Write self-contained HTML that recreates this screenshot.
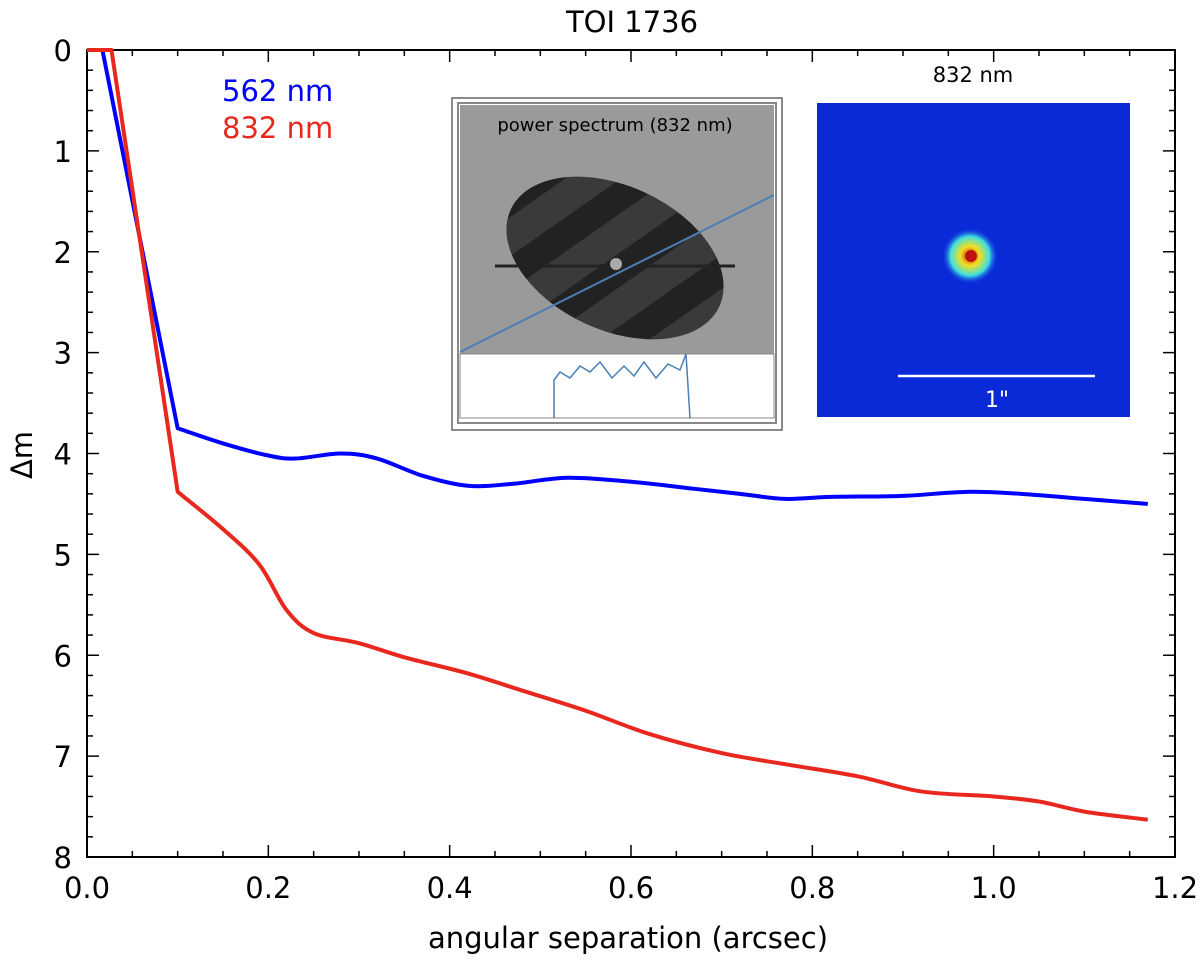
<!DOCTYPE html>
<html><head><meta charset="utf-8"><style>
body{margin:0;background:#fff;font-family:"DejaVu Sans","Liberation Sans",sans-serif}
</style></head><body>
<svg width="1200" height="968" viewBox="0 0 1200 968">
<defs>
<radialGradient id="spk" cx="50%" cy="50%" r="50%"><stop offset="0" stop-color="#d02010"/><stop offset="0.35" stop-color="#f0e020"/><stop offset="0.7" stop-color="#40e0e0"/><stop offset="1" stop-color="#1030e0" stop-opacity="0"/></radialGradient>
<pattern id="stripes" width="60" height="60" patternUnits="userSpaceOnUse" patternTransform="rotate(30)"><rect width="60" height="60" fill="#3a3a3a"/><rect width="28" height="60" fill="#222"/></pattern>
</defs>
<text x="632" y="32" font-size="29" text-anchor="middle">TOI 1736</text>
<g id="axes"></g>
<g id="series"></g>
<text x="222" y="101" font-size="29" fill="#0000ff">562 nm</text>
<text x="222" y="138" font-size="29" fill="#e8281e">832 nm</text>
<g>
<rect x="452" y="98" width="330" height="332" fill="#fff" stroke="#666" stroke-width="1.5"/>
<rect x="458" y="103" width="318" height="320" fill="none" stroke="#888" stroke-width="2"/>
<rect x="460" y="105" width="314" height="249" fill="#9a9a9a"/>
<ellipse cx="615" cy="258" rx="115" ry="72" transform="rotate(25 615 258)" fill="url(#stripes)"/>
<line x1="495" y1="266" x2="735" y2="266" stroke="#222" stroke-width="3"/>
<circle cx="616" cy="264" r="6" fill="#aaa"/>
<line x1="460" y1="352" x2="774" y2="195" stroke="#4a7fb5" stroke-width="2"/>
<rect x="460" y="354" width="314" height="64" fill="#fff" stroke="#888"/>
<polyline points="554,418 554,380 560,372 570,378 580,366 590,372 600,362 612,378 624,366 634,376 644,362 656,378 668,364 680,370 686,354 690,418" fill="none" stroke="#4a7fb5" stroke-width="1.5"/>
<text x="615" y="131" font-size="18" text-anchor="middle">power spectrum (832 nm)</text>
</g>
<g>
<text x="973" y="82" font-size="21" text-anchor="middle">832 nm</text>
<rect x="817" y="103" width="313" height="314" fill="#0a2ad8"/>
<circle cx="970" cy="256" r="28" fill="url(#spk)"/>
<circle cx="971" cy="256" r="6" fill="#c01010"/>
<line x1="898" y1="376" x2="1095" y2="376" stroke="#fff" stroke-width="2.5"/>
<text x="997" y="407" font-size="22" fill="#fff" text-anchor="middle">1"</text>
</g>
<text x="628" y="948" font-size="29" text-anchor="middle">angular separation (arcsec)</text>
<text x="32" y="455" font-size="29" text-anchor="middle" transform="rotate(-90 32 455)">Δm</text>
</svg>
<script>
const xTicks=[0,0.2,0.4,0.6,0.8,1.0,1.2];
const yTicks=[0,1,2,3,4,5,6,7,8];
const sepBlue=[0,0.017,0.1,0.15,0.2,0.23,0.28,0.32,0.37,0.42,0.47,0.53,0.6,0.67,0.72,0.77,0.82,0.9,0.97,1.03,1.1,1.17];
const dmBlue=[0,0,3.75,3.9,4.02,4.05,4.0,4.05,4.22,4.32,4.3,4.24,4.28,4.35,4.4,4.45,4.43,4.42,4.38,4.4,4.45,4.5];
const sepRed=[0,0.027,0.1,0.15,0.19,0.22,0.25,0.3,0.35,0.42,0.48,0.55,0.62,0.7,0.77,0.85,0.92,1.0,1.05,1.1,1.17];
const dmRed=[0,0,4.38,4.75,5.1,5.55,5.78,5.88,6.02,6.18,6.35,6.55,6.78,6.97,7.08,7.2,7.35,7.4,7.45,7.55,7.63];
const L=87,R=1175,T=50,B=857;
const X=v=>L+(v/1.2)*(R-L), Y=v=>T+(v/8)*(B-T);
const ns="http://www.w3.org/2000/svg";
const ax=document.getElementById('axes'), se=document.getElementById('series');
function mk(p,tag,at){const e=document.createElementNS(ns,tag);for(const k in at)e.setAttribute(k,at[k]);p.appendChild(e);return e;}
const fr=mk(ax,'rect',{x:L,y:T,width:R-L,height:B-T,fill:'none',stroke:'#000','stroke-width':2});


for(let i=0;i<=24;i++){const v=i*0.05,x=X(v),len=i%4===0?12:6;
mk(ax,'line',{x1:x,y1:B,x2:x,y2:B-len,stroke:'#000','stroke-width':1.5});
mk(ax,'line',{x1:x,y1:T,x2:x,y2:T+len,stroke:'#000','stroke-width':1.5});}
for(let i=0;i<=40;i++){const v=i*0.2,y=Y(v),len=i%5===0?12:6;
mk(ax,'line',{x1:L,y1:y,x2:L+len,y2:y,stroke:'#000','stroke-width':1.5});
mk(ax,'line',{x1:R,y1:y,x2:R-len,y2:y,stroke:'#000','stroke-width':1.5});}
xTicks.forEach(v=>{const t=mk(ax,'text',{x:X(v),y:898,'font-size':29,'text-anchor':'middle'});t.textContent=v.toFixed(1);

});
yTicks.forEach(v=>{const t=mk(ax,'text',{x:72,y:Y(v)+11,'font-size':29,'text-anchor':'end'});t.textContent=v;

});
function line(xs,ys,c,name){
  const P=xs.map((x,i)=>[X(x),Y(ys[i])]);
  let d='M'+P[0][0]+','+P[0][1]+' L'+P[1][0]+','+P[1][1]+' L'+P[2][0]+','+P[2][1];
  for(let i=2;i<P.length-1;i++){
    const p0=P[Math.max(i-1,2)],p1=P[i],p2=P[i+1],p3=P[Math.min(i+2,P.length-1)];
    const c1=[p1[0]+(p2[0]-p0[0])/6,p1[1]+(p2[1]-p0[1])/6],c2=[p2[0]-(p3[0]-p1[0])/6,p2[1]-(p3[1]-p1[1])/6];
    d+=' C'+c1+' '+c2+' '+p2;
  }
  const p=mk(se,'path',{d:d,fill:'none',stroke:c,'stroke-width':4,'stroke-linejoin':'round'});
  
  }
line(sepBlue,dmBlue,'#0000ff','curve-562nm');
line(sepRed,dmRed,'#e8281e','curve-832nm');
</script>
</body></html>
